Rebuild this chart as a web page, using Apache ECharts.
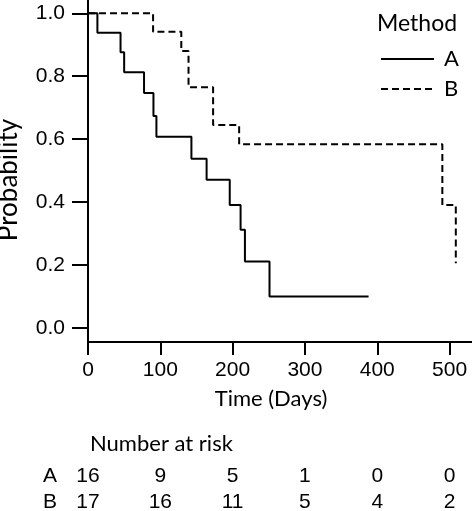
<!DOCTYPE html>
<html><head><meta charset="utf-8">
<script src="https://cdn.jsdelivr.net/npm/echarts@6/dist/echarts.min.js"></script>
<style>html,body{margin:0;padding:0;background:#fff}#c{width:472px;height:511px}</style>
</head><body><div id="c"></div>
<script>
// ---- data ----
const timeTicks = [0, 100, 200, 300, 400, 500];
const probTicks = [0, 0.2, 0.4, 0.6, 0.8, 1.0];
const probLabels = ['0.0', '0.2', '0.4', '0.6', '0.8', '1.0'];
const methodATimes = [0, 13, 45, 50, 77.5, 90.5, 94.6, 143, 164, 196, 211, 217, 251, 388];
const methodAProb  = [1, 0.938, 0.876, 0.813, 0.747, 0.674, 0.608, 0.538, 0.471, 0.391, 0.312, 0.211, 0.100, 0.100];
const methodBTimes = [0, 90, 129, 139, 173, 209, 490, 508.6];
const methodBProb  = [1, 0.941, 0.880, 0.765, 0.645, 0.584, 0.391, 0.206];
const riskTimes = [0, 100, 200, 300, 400, 500];
const riskA = [16, 9, 5, 1, 0, 0];
const riskB = [17, 16, 11, 5, 4, 2];
const groups = ['A', 'B'];

// ---- build ----
const zip = (xs, ys) => xs.map((x, i) => [x, ys[i]]);
const riskData = [];
riskTimes.forEach((t, i) => { riskData.push([t, 'A', riskA[i]]); riskData.push([t, 'B', riskB[i]]); });
const sans = 'Lato, "Open Sans", sans-serif';
const arial = '"Liberation Sans", Arial, sans-serif';

const chart = echarts.init(document.getElementById('c'), null, {renderer: 'canvas'});
chart.setOption({
  backgroundColor: '#fff',
  animation: false,
  title: [
    {text: 'Method', left: 377, top: 12, padding: 0,
     textStyle: {fontFamily: sans, fontSize: 23, fontWeight: 'normal', color: '#000'}},
    {text: 'Number at risk', left: 90, top: 433, padding: 0,
     textStyle: {fontFamily: sans, fontSize: 22, fontWeight: 'normal', color: '#000'}}
  ],
  legend: {
    data: groups, orient: 'vertical', left: 380, top: 48, padding: 0,
    itemWidth: 53, itemHeight: 20, itemGap: 8,
    itemStyle: {opacity: 0},
    textStyle: {fontFamily: sans, fontSize: 22, color: '#000', padding: [0, 0, 0, 5]}
  },
  grid: [
    {left: 88, top: 0, width: 384, height: 342, containLabel: false, outerBoundsMode: 'none'},
    {left: 88, top: 463, width: 384, height: 52, containLabel: false, outerBoundsMode: 'none'}
  ],
  xAxis: [
    {type: 'value', gridIndex: 0, min: 0, max: 531,
     name: 'Time (Days)', nameLocation: 'middle', nameGap: 46,
     nameTextStyle: {fontFamily: sans, fontSize: 22, color: '#000', padding: [0, 18, 0, 0]},
     axisLine: {show: true, onZero: false, lineStyle: {color: '#000', width: 2}},
     axisTick: {show: true, customValues: timeTicks, length: 13, lineStyle: {color: '#000', width: 2}},
     axisLabel: {customValues: timeTicks, margin: 18, fontFamily: arial, fontSize: 21, color: '#000'},
     splitLine: {show: false}},
    {type: 'value', gridIndex: 1, min: 0, max: 531, show: false}
  ],
  yAxis: [
    {type: 'value', gridIndex: 0, min: -0.0444, max: 1.0422,
     name: 'Probability', nameLocation: 'middle', nameGap: 66,
     nameTextStyle: {fontFamily: sans, fontSize: 26, color: '#000', padding: [0, 18, 0, 0]},
     axisLine: {show: true, onZero: false, lineStyle: {color: '#000', width: 2}},
     axisTick: {show: true, customValues: probTicks, length: 16, lineStyle: {color: '#000', width: 2}},
     axisLabel: {customValues: probTicks, margin: 23, fontFamily: arial, fontSize: 21, color: '#000',
       formatter: v => probLabels[Math.round(v * 5)]},
     splitLine: {show: false}},
    {type: 'category', gridIndex: 1, data: groups, inverse: true,
     axisLine: {show: false}, axisTick: {show: false}, splitLine: {show: false},
     axisLabel: {interval: 0, margin: 38, align: 'center', fontFamily: arial, fontSize: 21, color: '#000'}}
  ],
  series: [
    {name: 'A', type: 'line', step: 'end', symbol: 'none', data: zip(methodATimes, methodAProb),
     color: '#000', lineStyle: {color: '#000', width: 2, type: 'solid'}},
    {name: 'B', type: 'line', step: 'end', symbol: 'none', data: zip(methodBTimes, methodBProb),
     color: '#000', lineStyle: {color: '#000', width: 2, type: [7, 4]}},
    {name: 'risk', type: 'scatter', xAxisIndex: 1, yAxisIndex: 1, data: riskData,
     symbolSize: 1, itemStyle: {color: 'rgba(0,0,0,0)'}, silent: true,
     label: {show: true, position: 'inside', formatter: p => String(p.value[2]),
       fontFamily: arial, fontSize: 21, color: '#000', opacity: 1,
       textBorderWidth: 0, textBorderColor: 'transparent', textShadowBlur: 0}}
  ]
});
</script></body></html>
